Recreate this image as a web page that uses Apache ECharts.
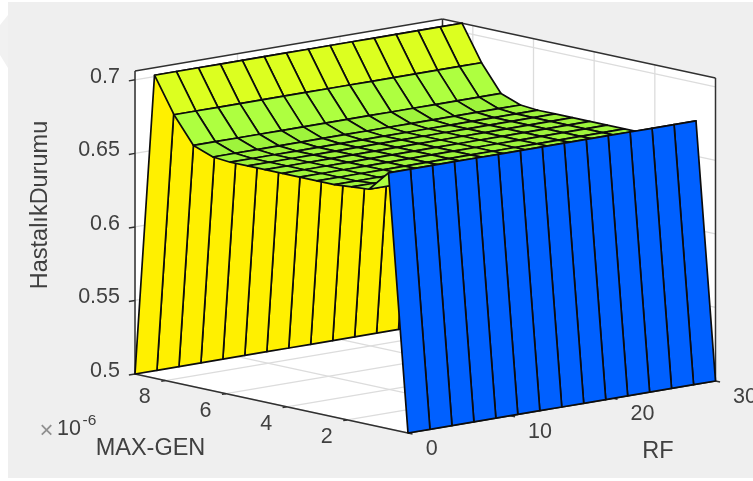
<!DOCTYPE html>
<html><head><meta charset="utf-8">
<style>html,body{margin:0;padding:0;background:#fff}#c{width:753px;height:481px;filter:blur(0.6px)}</style>
<script src="https://cdn.jsdelivr.net/npm/echarts@6/dist/echarts.min.js"></script>
</head><body><div id="c"></div>
<script>
// ---- data ----
const rfValues = [0,2.14,4.29,6.43,8.57,10.71,12.86,15,17.14,19.29,21.43,23.57,25.71,27.86,30];
const genValues = [0,0.643,1.286,1.857,2.429,3,3.571,4.143,4.714,5.286,5.857,6.429,7.071,7.714,8.357,9];
// surface height at each MAX-GEN row; it does not change along RF in the picture
const heightByGen = [.5,.674,.660,.659,.658,.658,.658,.658,.658,.658,.658,.659,.664,.682,.706,.5];
const rfTicks = [0,10,20,30];
const genTicks = [2,4,6,8];
const zTicks = [0.5,0.55,0.6,0.65,0.7];
const zTickLabels = ['0.5','0.55','0.6','0.65','0.7'];
const rfTitle='RF', genTitle='MAX-GEN', zTitle='HastalıkDurumu';
// colour stops: surface height -> flat cell colour
const colorStops = [[0.5,'#0060ff'],[0.655,'#9ef43c'],[0.665,'#aeff40'],[0.683,'#dcff20'],[0.706,'#fff000']];

// ---- orthographic view of the axes box ----
const RF_MAX=30, GEN_MAX=9, Z_MIN=0.5, Z_MAX=0.706;
const front=[408,433], rfVec=[307.5,-52], genVec=[-273,-59], zHeight=303;
function project(rf,gen,z){
  const a=rf/RF_MAX,b=gen/GEN_MAX,c=(z-Z_MIN)/(Z_MAX-Z_MIN);
  return [front[0]+a*rfVec[0]+b*genVec[0], front[1]+a*rfVec[1]+b*genVec[1]-c*zHeight];
}
function cellColor(z){let col=colorStops[0][1];let best=1e9;for(const s of colorStops){const d=Math.abs(s[0]-z);if(d<best){best=d;col=s[1];}}return col;}

const walls=[
 [[0,GEN_MAX,Z_MIN],[RF_MAX,GEN_MAX,Z_MIN],[RF_MAX,GEN_MAX,Z_MAX],[0,GEN_MAX,Z_MAX]],
 [[RF_MAX,0,Z_MIN],[RF_MAX,GEN_MAX,Z_MIN],[RF_MAX,GEN_MAX,Z_MAX],[RF_MAX,0,Z_MAX]],
 [[0,0,Z_MIN],[RF_MAX,0,Z_MIN],[RF_MAX,GEN_MAX,Z_MIN],[0,GEN_MAX,Z_MIN]]
];
const gridSegs=[];
for(const r of rfTicks){gridSegs.push([[r,0,Z_MIN],[r,GEN_MAX,Z_MIN]]);gridSegs.push([[r,GEN_MAX,Z_MIN],[r,GEN_MAX,Z_MAX]]);}
for(const g of genTicks){gridSegs.push([[0,g,Z_MIN],[RF_MAX,g,Z_MIN]]);gridSegs.push([[RF_MAX,g,Z_MIN],[RF_MAX,g,Z_MAX]]);}
for(const z of zTicks){gridSegs.push([[0,GEN_MAX,z],[RF_MAX,GEN_MAX,z]]);gridSegs.push([[RF_MAX,0,z],[RF_MAX,GEN_MAX,z]]);}
const boxSegs=[
 [[0,GEN_MAX,Z_MAX],[RF_MAX,GEN_MAX,Z_MAX]],[[RF_MAX,0,Z_MAX],[RF_MAX,GEN_MAX,Z_MAX]],
 [[RF_MAX,GEN_MAX,Z_MIN],[RF_MAX,GEN_MAX,Z_MAX]],
 [[0,GEN_MAX,Z_MIN],[0,GEN_MAX,Z_MAX]],[[RF_MAX,0,Z_MIN],[RF_MAX,0,Z_MAX]],
 [[0,0,Z_MIN],[0,GEN_MAX,Z_MIN]],[[0,0,Z_MIN],[RF_MAX,0,Z_MIN]]
];
for(const z of zTicks)boxSegs.push([[0,GEN_MAX,z],[-0.6,GEN_MAX,z]]);
for(const g of genTicks)boxSegs.push([[0,g,Z_MIN],[-0.4,g,Z_MIN]]);
for(const r of rfTicks)boxSegs.push([[r,0,Z_MIN],[r,-0.15,Z_MIN]]);

const cells=[];
for(let j=genValues.length-2;j>=0;j--)for(let i=rfValues.length-2;i>=0;i--)cells.push([i,j]);

const pt=(api,p)=>api.coord(project(p[0],p[1],p[2]));
const TXT='#404040', FONT='"Liberation Sans",Arial,sans-serif';
const labels=[];
zTicks.forEach((z,k)=>{const p=project(0,GEN_MAX,z);labels.push({x:p[0]-15,y:p[1]-3,t:zTickLabels[k],s:21.5,a:'right',r:0});});
genTicks.forEach(g=>{const p=project(0,g,Z_MIN);labels.push({x:p[0]-20.5,y:p[1]+17,t:String(g),s:21.5,a:'center',r:0});});
rfTicks.forEach(r=>{const p=project(r,0,Z_MIN);labels.push({x:p[0]+(r===0?23.7:29.5),y:p[1]+16,t:String(r),s:21.5,a:'center',r:0});});
labels.push({x:150.5,y:449,t:genTitle,s:23.5,a:'center',r:0});
labels.push({x:658,y:452,t:rfTitle,s:23.5,a:'center',r:0});
labels.push({x:41,y:205,t:zTitle,s:23.5,a:'center',r:Math.PI/2});
labels.push({x:46.5,y:431,t:'×',s:24,a:'center',r:0,c:'#909090'});
labels.push({x:69,y:429,t:'10',s:21.5,a:'center',r:0});
labels.push({x:89.5,y:421,t:'-6',s:15.5,a:'center',r:0});

const chart=echarts.init(document.getElementById('c'),null,{renderer:'canvas'});
chart.setOption({
 animation:false,backgroundColor:'#ffffff',
 grid:{left:0,right:0,top:0,bottom:0},
 xAxis:{type:'value',min:0,max:753,show:false},
 yAxis:{type:'value',min:0,max:481,inverse:true,show:false},
 graphic:[
  {type:'rect',shape:{x:8,y:2,width:745,height:476},style:{fill:'#efefef'},z:-1},
  {type:'polygon',shape:{points:[[8,15],[0,25],[0,55],[8,68]]},style:{fill:'#f1f1f1'},z:-1}
 ],
 series:[
  {type:'custom',coordinateSystem:'cartesian2d',z:2,data:walls.map((w,i)=>[i]),silent:true,
   renderItem:(p,api)=>({type:'polygon',shape:{points:walls[api.value(0)].map(q=>pt(api,q))},style:{fill:'#fff',stroke:'#fff',lineWidth:1}})},
  {type:'custom',coordinateSystem:'cartesian2d',z:3,data:gridSegs.map((w,i)=>[i]),silent:true,
   renderItem:(p,api)=>{const s=gridSegs[api.value(0)],a=pt(api,s[0]),b=pt(api,s[1]);return {type:'line',shape:{x1:a[0],y1:a[1],x2:b[0],y2:b[1]},style:{stroke:'#dcdcdc',lineWidth:1.3}};}},
  {type:'custom',coordinateSystem:'cartesian2d',z:4,data:boxSegs.map((w,i)=>[i]),silent:true,clip:false,
   renderItem:(p,api)=>{const s=boxSegs[api.value(0)],a=pt(api,s[0]),b=pt(api,s[1]);return {type:'line',shape:{x1:a[0],y1:a[1],x2:b[0],y2:b[1]},style:{stroke:'#303030',lineWidth:1.5}};}},
  {type:'custom',coordinateSystem:'cartesian2d',z:5,data:cells,silent:true,clip:false,
   renderItem:(p,api)=>{const i=api.value(0),j=api.value(1);
     const v=(a,b)=>pt(api,[rfValues[a],genValues[b],heightByGen[b]]);
     const c=cellColor(heightByGen[j]);
     return {type:'polygon',z2:p.dataIndex,shape:{points:[v(i,j),v(i+1,j),v(i+1,j+1),v(i,j+1)]},
       style:{fill:c,stroke:'#0c0c0c',lineWidth:1.7,lineJoin:'round'}};}},
  {type:'custom',coordinateSystem:'cartesian2d',z:6,data:labels.map((w,i)=>[i]),silent:true,clip:false,
   renderItem:(p,api)=>{const l=labels[api.value(0)],c=api.coord([l.x,l.y]);
     return {type:'text',x:c[0],y:c[1],rotation:l.r,style:{text:l.t,fill:l.c||TXT,font:l.s+'px '+FONT,textAlign:l.a,textVerticalAlign:'middle'}};}}
 ]
});
</script></body></html>
